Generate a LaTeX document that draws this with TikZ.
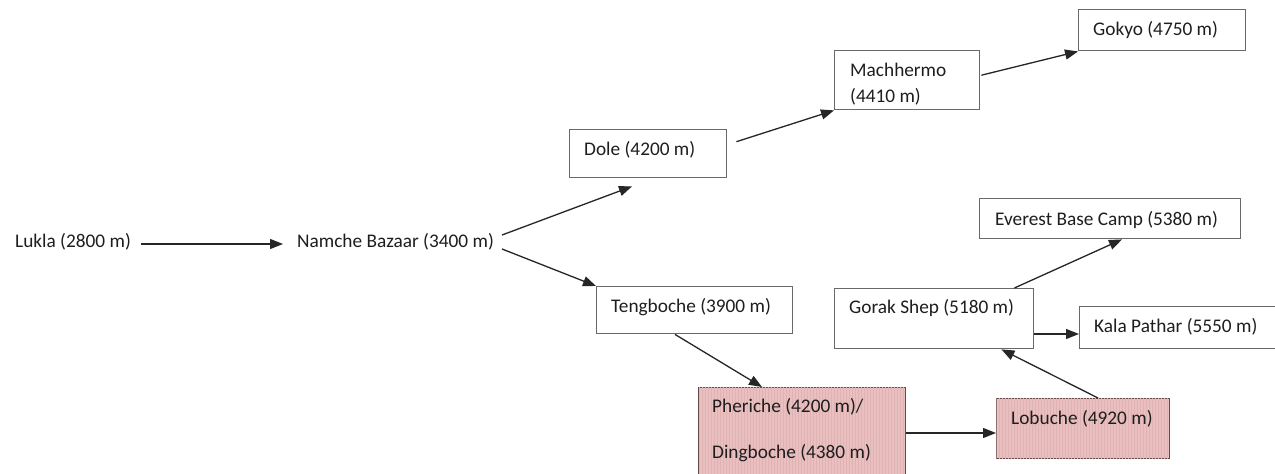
\documentclass[tikz,border=0pt]{standalone}
\usepackage{fontspec}
\setmainfont{Carlito}
\usetikzlibrary{arrows.meta,calc,patterns}
\definecolor{pinkfill}{RGB}{234,191,192}
\definecolor{pinkline}{RGB}{224,178,180}
\definecolor{boxline}{RGB}{105,105,105}
\definecolor{pinkborder}{RGB}{100,75,75}
\definecolor{txt}{RGB}{30,30,30}
\begin{document}
\begin{tikzpicture}[x=1pt,y=-1pt,
  box/.style={draw=boxline, line width=1.4pt, rectangle, inner sep=0pt, anchor=north west},
  pinkbox/.style={box, draw=pinkborder, fill=pinkfill, postaction={pattern=vertical lines, pattern color=pinkline}},
  lbl/.style={font=\fontsize{19.3}{26}\selectfont, text=txt, inner sep=0pt, anchor=west, align=left},
  conn/.style={draw=black!85, line width=1.3pt, -{Triangle[length=13pt,width=10pt]}}]
\useasboundingbox (0,0) rectangle (1275,474);
\fill[white] (0,0) rectangle (1275,474);
\clip (0,0) rectangle (1275,474);

% boxes
\node[box, minimum width=167pt, minimum height=41pt] (gokyo) at (1078,9) {};
\node[box, minimum width=145pt, minimum height=59pt] (mach) at (834,50) {};
\node[box, minimum width=157pt, minimum height=48pt] (dole) at (569,129) {};
\node[box, minimum width=196pt, minimum height=47pt] (teng) at (596,286) {};
\node[pinkbox, minimum width=207pt, minimum height=100pt] (pher) at (698,387) {};
\node[pinkbox, minimum width=173pt, minimum height=60pt] (lob) at (996,398) {};
\node[box, minimum width=199pt, minimum height=60pt] (gorak) at (834,288) {};
\node[box, minimum width=220pt, minimum height=42pt] (kala) at (1079,306) {};
\node[box, minimum width=261pt, minimum height=40pt] (ebc) at (979,198) {};

% labels
\node[lbl] (gokyoT) at (1093,30) {Gokyo (4750 m)};
\node[lbl] (machT) at (850,84) {Machhermo\\(4410 m)};
\node[lbl] (doleT) at (584,150) {Dole (4200 m)};
\node[lbl] (tengT) at (611,307) {Tengboche (3900 m)};
\node[lbl] (pherT) at (712,430) {Pheriche (4200 m)/\\[20pt]Dingboche (4380 m)};
\node[lbl] (lobT) at (1011,419) {Lobuche (4920 m)};
\node[lbl] (gorakT) at (849,308) {Gorak Shep (5180 m)};
\node[lbl] (kalaT) at (1094,327) {Kala Pathar (5550 m)};
\node[lbl] (ebcT) at (995,220) {Everest Base Camp (5380 m)};
\node[lbl] (lukla) at (15,242) {Lukla (2800 m)};
\node[lbl] (namche) at (297,242) {Namche Bazaar (3400 m)};

% connectors
\draw[conn] ($(lukla.east)+(10,2)$) -- ($(namche.west)+(-14,2)$);
\draw[conn] ($(namche.east)+(8,-7)$) -- ($(dole.south west)+(63,8)$);
\draw[conn] ($(namche.east)+(8,7)$) -- (teng.north west);
\draw[conn] ($(dole.east)+(9,-12)$) -- (mach.south west);
\draw[conn] ($(mach.east)+(1,-5)$) -- (gokyo.south west);
\draw[conn] ($(teng.south west)+(79,0)$) -- ($(pher.north west)+(64,0)$);
\draw[conn] ($(pher.north east)+(0,46)$) -- ($(lob.north west)+(0,35)$);
\draw[conn] ($(lob.north west)+(102,0)$) -- ($(gorak.south east)+(-33,0)$);
\draw[conn] ($(gorak.north east)+(-20,0)$) -- ($(ebc.south west)+(143,0)$);
\draw[conn] ($(gorak.north east)+(0,46)$) -- ($(kala.north west)+(0,28)$);
\end{tikzpicture}
\end{document}
